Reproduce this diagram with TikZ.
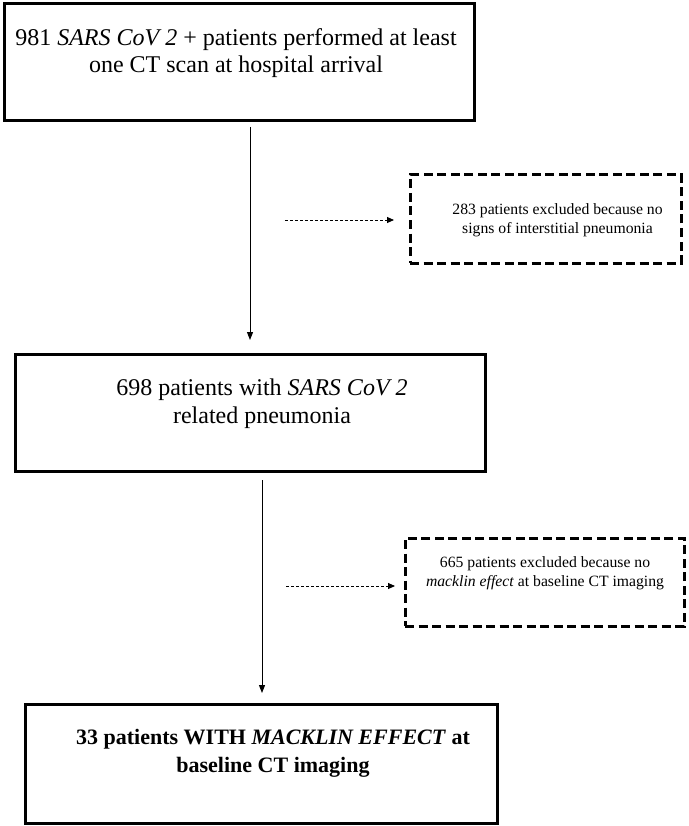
\documentclass[tikz,border=0pt]{standalone}
\usepackage{fontspec}
\setmainfont{Liberation Serif}
\usetikzlibrary{arrows.meta}
\begin{document}
\begin{tikzpicture}[x=1pt,y=-1pt,
  mainbox/.style={draw=black,line width=3pt,inner sep=0pt,fill=none},
  exbox/.style={draw=black,line width=3pt,dash pattern=on 9pt off 4.5pt,inner sep=0pt},
  bigtxt/.style={align=center,inner sep=0pt,font=\fontsize{24}{27.5}\selectfont},
  smalltxt/.style={align=center,inner sep=0pt,font=\fontsize{15.7}{19}\selectfont},
  flow/.style={line width=1pt,-{Triangle[length=8pt,width=6pt]}},
  exflow/.style={line width=0.9pt,dash pattern=on 3pt off 2pt,-{Triangle[length=7pt,width=6pt]}}]
\useasboundingbox (0,0) rectangle (688,826);
\fill[white] (0,0) rectangle (688,826);
% boxes
\node[mainbox,minimum width=470pt,minimum height=117pt] (b1) at (239,62) {};
\node[mainbox,minimum width=470pt,minimum height=117pt] (b2) at (250,412.5) {};
\node[mainbox,minimum width=472pt,minimum height=119pt] (b3) at (261,763.5) {};
\node[exbox,minimum width=271pt,minimum height=88pt] (e1) at (545.5,219) {};
\node[exbox,minimum width=279pt,minimum height=88pt] (e2) at (544.5,582) {};
% texts
\node[bigtxt] (t1) at (236,53) {981 \textit{SARS CoV 2} + patients performed at least\\one CT scan at hospital arrival};
\node[bigtxt] (t2) at (262,403.5) {698 patients with \textit{SARS CoV 2}\\related pneumonia};
\node[align=center,inner sep=0pt,font=\fontsize{22}{27.5}\selectfont\bfseries] (t3) at (273,753.5) {33 patients WITH \textit{MACKLIN EFFECT} at\\baseline CT imaging};
\node[smalltxt] (t4) at (557.5,220.5) {283 patients excluded because no\\signs of interstitial pneumonia};
\node[smalltxt] (t5) at (545,573.5) {665 patients excluded because no\\\textit{macklin effect} at baseline CT imaging};
% connectors
\coordinate (a1s) at (250,127);
\coordinate (a1e) at (250,340);
\draw[flow] (a1s) -- (a1e);
\coordinate (a2s) at (262,480);
\coordinate (a2e) at (262,693);
\draw[flow] (a2s) -- (a2e);
\coordinate (d1s) at (285,220);
\coordinate (d1e) at (394,220);
\draw[exflow] (d1s) -- (d1e);
\coordinate (d2s) at (286,586);
\coordinate (d2e) at (395,586);
\draw[exflow] (d2s) -- (d2e);
\end{tikzpicture}
\end{document}
